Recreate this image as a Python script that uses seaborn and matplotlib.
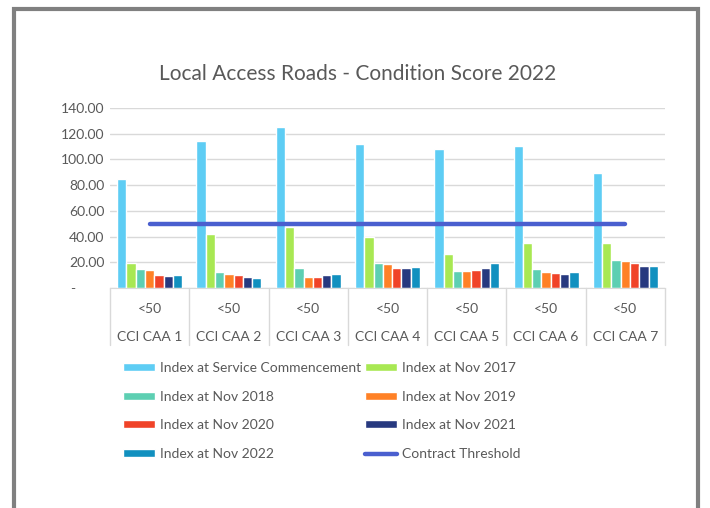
import matplotlib
matplotlib.use("Agg")
import matplotlib.pyplot as plt
import matplotlib.transforms as mtransforms
from matplotlib.patches import Rectangle
from matplotlib.ticker import FuncFormatter
import pandas as pd
import seaborn as sns

# Chart data
areas = ["CCI CAA 1", "CCI CAA 2", "CCI CAA 3", "CCI CAA 4", "CCI CAA 5", "CCI CAA 6", "CCI CAA 7"]
bands = ["<50", "<50", "<50", "<50", "<50", "<50", "<50"]

service_commencement = [85.0, 114.7, 124.9, 112.0, 107.9, 110.2, 89.3]
nov_2017 = [19.4, 41.9, 47.1, 39.8, 26.4, 34.8, 34.8]
nov_2018 = [14.4, 12.3, 15.2, 19.6, 13.4, 14.7, 21.5]
nov_2019 = [13.9, 10.7, 8.6, 18.3, 13.4, 12.3, 20.7]
nov_2020 = [10.5, 9.9, 8.9, 15.4, 13.9, 12.0, 19.4]
nov_2021 = [9.4, 8.9, 9.9, 15.7, 15.4, 10.7, 17.3]
nov_2022 = [9.9, 8.1, 10.7, 16.2, 19.1, 12.3, 16.8]
contract_threshold = [50, 50, 50, 50, 50, 50, 50]

series_names = ["Index at Service Commencement", "Index at Nov 2017", "Index at Nov 2018",
                "Index at Nov 2019", "Index at Nov 2020", "Index at Nov 2021", "Index at Nov 2022"]
series_values = [service_commencement, nov_2017, nov_2018, nov_2019, nov_2020, nov_2021, nov_2022]
colors = ["#5ECDF4", "#A8E853", "#5DCFB2", "#FF8126", "#F04328", "#27397F", "#1190BF"]

# long-form table for seaborn
rows = []
for name, vals in zip(series_names, series_values):
    for area, v in zip(areas, vals):
        rows.append({"area": area, "series": name, "score": v})
df = pd.DataFrame(rows)

sns.set_style("white")
plt.rcParams["font.family"] = ["Lato", "DejaVu Sans"]
text_color = "#595959"

fig = plt.figure(figsize=(7.1, 5.08), dpi=100)
ax = fig.add_axes([110 / 710, 1 - 288 / 508, 555 / 710, 180 / 508])

sns.barplot(data=df, x="area", y="score", hue="series", hue_order=series_names,
            palette=colors, saturation=1, width=0.82, ax=ax, legend=True)
ax.plot(range(len(areas)), contract_threshold, color="#4A5FCF", lw=3.2,
        solid_capstyle="round", label="Contract Threshold", zorder=4)

ax.set_ylim(0, 140)
ax.set_xlim(-0.5, len(areas) - 0.5)
ax.set_yticks(range(0, 141, 20))
ax.yaxis.set_major_formatter(FuncFormatter(lambda v, p: "-        " if v == 0 else f"{v:.2f}"))
ax.grid(axis="y", color="#d9d9d9", lw=1)
ax.set_axisbelow(True)
for s in ["top", "right", "left"]:
    ax.spines[s].set_visible(False)
ax.spines["bottom"].set_color("#d9d9d9")
ax.tick_params(axis="y", length=0, labelsize=10, colors=text_color, pad=4)
ax.set_xticks(range(len(areas)), bands)
ax.tick_params(axis="x", length=0, labelsize=10, colors=text_color, pad=11)
ax.set_xlabel("")
ax.set_ylabel("")

# second level of category labels and separators
trans = mtransforms.blended_transform_factory(ax.transData, ax.transAxes)
for i, name in enumerate(areas):
    ax.text(i, -0.27, name, transform=trans, ha="center", va="center",
            fontsize=10, color=text_color)
for b in range(len(areas) + 1):
    ax.plot([b - 0.5, b - 0.5], [0, -0.317], transform=trans, color="#d9d9d9",
            lw=1, clip_on=False)

fig.text(358 / 710, 1 - 74 / 508, "Local Access Roads - Condition Score 2022",
         ha="center", va="center", fontsize=15, color=text_color)

handles, labels = ax.get_legend_handles_labels()
ax.get_legend().remove()
order = [0, 2, 4, 6, 1, 3, 5, 7]
leg = fig.legend([handles[i] for i in order], [labels[i] for i in order],
                 loc="upper left", bbox_to_anchor=(116 / 710, 1 - 355 / 508),
                 ncol=2, frameon=False, fontsize=10, handlelength=2.3,
                 handleheight=0.5, handletextpad=0.35, columnspacing=0.3,
                 labelspacing=1.2, borderpad=0)
for t in leg.get_texts():
    t.set_color(text_color)

# grey screenshot frame
fig.add_artist(Rectangle((14 / 710, -0.1), (684) / 710, 1.1 - 9 / 508,
                         transform=fig.transFigure, fill=False, ec="#808080", lw=3))

fig.savefig("out.png", dpi=100)
